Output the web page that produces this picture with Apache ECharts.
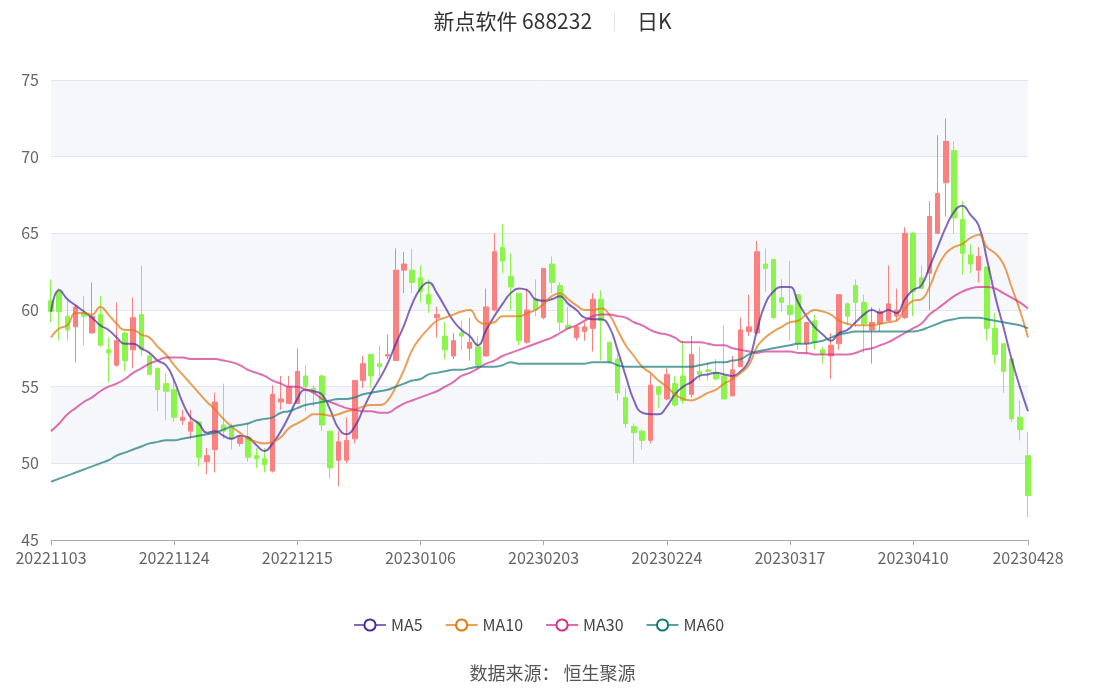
<!DOCTYPE html>
<html>
<head>
<meta charset="utf-8">
<script src="https://cdn.jsdelivr.net/npm/echarts@6/dist/echarts.min.js"></script>
<style>html,body{margin:0;padding:0;background:#fff}#c{width:1105px;height:689px}</style>
</head>
<body>
<div id="c"></div>
<script>
const dates = ['20221103','20221104','20221107','20221108','20221109','20221110','20221111','20221114','20221115','20221116','20221117','20221118','20221121','20221122','20221123','20221124','20221125','20221128','20221129','20221130',
'20221201','20221202','20221205','20221206','20221207','20221208','20221209','20221212','20221213','20221214','20221215','20221216','20221219','20221220','20221221','20221222','20221223','20221226','20221227','20221228','20221229','20221230',
'20230103','20230104','20230105','20230106','20230109','20230110','20230111','20230112','20230113','20230116','20230117','20230118','20230119','20230120','20230130','20230131',
'20230201','20230202','20230203','20230206','20230207','20230208','20230209','20230210','20230213','20230214','20230215','20230216','20230217','20230220','20230221','20230222','20230223','20230224','20230227','20230228',
'20230301','20230302','20230303','20230306','20230307','20230308','20230309','20230310','20230313','20230314','20230315','20230316','20230317','20230320','20230321','20230322','20230323','20230324','20230327','20230328','20230329','20230330','20230331',
'20230403','20230404','20230406','20230407','20230410','20230411','20230412','20230413','20230414','20230417','20230418','20230419','20230420','20230421','20230424','20230425','20230426','20230427','20230428'];

// [open, close, low, high]
const kData = [
[60.6,59.9,59.2,62.0],[61.2,59.9,58.0,61.4],[59.6,58.7,58.0,60.6],[58.9,60.2,56.6,60.3],[59.8,59.6,57.7,60.9],
[58.5,59.6,58.5,61.8],[59.7,57.7,57.6,60.9],[57.4,57.2,55.3,58.2],[56.4,58.0,56.3,60.5],[58.5,56.7,56.0,58.6],
[57.4,59.5,56.2,60.8],[59.7,57.4,57.0,62.9],[57.0,55.8,55.8,57.3],[56.2,54.8,53.4,56.2],[55.2,54.7,52.8,55.9],
[54.8,53.0,52.7,55.5],[52.8,53.0,52.5,53.5],[52.1,52.7,51.6,53.5],[52.7,50.4,49.8,52.7],[50.1,50.5,49.3,51.0],
[50.9,54.0,49.4,54.6],[52.5,52.1,51.6,55.2],[52.3,51.6,50.9,52.6],[51.3,51.7,51.1,51.8],[51.7,50.4,50.1,52.6],
[50.5,50.3,49.7,51.0],[50.3,49.9,49.4,51.0],[49.5,54.5,49.4,55.1],[54.0,54.2,53.5,55.7],[53.9,55.0,53.9,55.7],
[53.9,56.0,53.9,57.5],[55.7,55.0,53.4,56.4],[54.9,54.6,53.7,55.1],[55.7,52.5,52.1,55.8],[52.1,49.7,49.0,52.1],
[50.2,51.4,48.5,52.1],[50.2,51.5,50.0,53.0],[51.6,55.4,51.3,55.4],[55.4,56.5,54.9,57.0],[57.1,55.7,54.9,57.1],
[56.5,56.3,55.7,57.7],[57.0,57.1,56.8,58.4],[56.7,62.6,56.7,64.0],[62.6,63.0,61.1,63.8],[62.6,61.8,61.1,64.0],
[62.1,61.2,60.5,62.9],[61.0,60.4,59.8,62.0],[59.5,59.7,58.2,60.2],[58.3,57.4,56.8,59.2],[57.0,58.0,56.8,58.5],
[58.5,58.3,57.4,59.3],[57.5,57.9,56.7,59.5],[57.6,56.4,56.1,58.3],[57.0,60.2,57.0,61.4],[60.0,63.8,59.9,65.0],
[64.1,63.2,62.4,65.6],[62.2,61.5,60.0,63.7],[61.1,58.0,57.7,61.1],[57.9,60.0,57.8,61.4],[60.7,60.0,59.6,62.0],
[59.5,62.7,59.4,62.7],[63.0,61.8,61.1,63.5],[61.6,59.2,58.6,61.8],[59.0,58.8,58.7,60.2],[58.2,58.9,58.0,59.0],
[58.6,58.9,58.0,59.2],[58.8,60.7,57.3,61.1],[60.7,59.3,56.7,61.3],[57.9,56.6,56.5,57.9],[56.8,54.6,54.1,57.1],
[54.3,52.6,52.3,54.9],[52.4,52.0,50.0,52.6],[52.1,51.5,50.9,52.2],[51.5,55.1,51.3,55.8],[55.0,54.5,53.6,55.0],
[54.2,55.8,54.1,56.2],[55.2,53.8,53.7,55.7],[55.7,54.1,53.9,58.0],[54.5,57.1,54.3,58.3],[56.0,55.8,55.4,57.6],
[56.1,56.0,55.4,56.6],[55.9,55.5,55.4,56.8],[55.7,54.2,54.2,59.0],[54.4,56.1,54.4,57.0],[56.3,58.7,56.3,59.5],
[58.6,58.9,58.3,61.0],[58.5,63.8,58.4,64.5],[63.0,62.7,61.2,64.0],[63.3,59.5,59.4,63.3],[60.8,60.5,59.9,62.0],
[60.3,59.7,58.0,63.2],[61.0,57.8,57.4,61.0],[57.8,59.2,57.1,59.2],[59.3,57.9,57.4,59.7],[57.4,57.1,56.5,57.6],
[57.0,57.7,55.5,58.5],[57.8,61.0,57.4,61.0],[60.4,59.6,59.0,60.5],[61.6,60.5,58.9,62.0],[60.5,59.1,57.2,61.0],
[58.7,59.2,56.5,60.2],[59.1,59.9,58.6,60.1],[59.3,60.4,59.3,62.9],[59.6,60.0,59.3,61.4],[59.5,65.0,59.4,65.4],
[65.0,61.2,59.6,65.1],[62.1,61.4,61.4,62.9],[62.4,66.1,60.0,67.1],[65.0,67.6,65.0,71.4],[68.3,71.0,66.1,72.5],
[70.4,66.0,65.0,71.0],[65.9,63.7,62.3,67.1],[63.6,63.0,62.4,64.3],[62.6,63.5,61.8,64.1],[62.8,58.8,58.0,62.8],
[58.8,57.1,56.5,59.8],[57.8,56.0,54.6,57.8],[56.8,52.9,52.7,56.8],[53.0,52.2,51.5,54.1],[50.5,47.9,46.5,52.0]
];

const ma5 = [59.9,61.3,60.7,60.3,59.9,59.5,59.0,58.7,58.2,57.8,57.8,57.5,57.2,56.7,56.4,55.4,54.0,53.0,52.6,52.0,
52.1,51.8,51.6,51.8,51.7,51.2,50.8,51.3,52.1,53.1,54.2,54.8,54.7,54.5,53.5,52.3,51.9,52.4,53.5,54.6,
55.5,56.5,57.8,59.0,60.4,61.4,61.8,61.1,60.2,59.3,58.7,58.3,57.7,58.7,59.6,60.4,61.1,61.4,61.3,60.7,
60.6,60.7,60.9,60.4,60.0,59.5,59.4,59.4,58.9,57.4,55.7,54.1,53.3,53.2,53.2,53.7,54.5,55.0,55.3,55.7,
55.8,55.9,55.8,55.7,56.0,56.7,58.7,60.4,61.2,61.5,61.5,60.5,59.6,58.9,58.4,58.0,58.5,58.7,59.2,59.7,
60.0,59.8,60.0,59.8,60.7,61.3,61.6,62.8,64.1,65.4,66.4,66.8,66.2,65.5,63.3,60.9,58.9,56.8,55.0,53.4];
const ma10 = [58.2,58.8,59.0,59.8,59.8,59.7,60.2,59.7,59.1,58.7,58.7,58.4,58.2,57.6,57.1,56.4,55.8,55.2,54.6,54.0,
53.5,52.9,52.4,52.0,51.6,51.4,51.3,51.4,51.7,52.3,52.6,52.9,53.2,53.2,53.1,53.2,53.4,53.5,53.7,53.8,
53.8,54.1,55.0,56.1,57.4,58.2,58.8,59.3,59.5,59.7,59.9,60.0,59.3,59.1,59.2,59.6,59.6,59.6,59.8,60.0,
60.4,60.9,61.1,60.7,60.3,60.0,60.0,60.1,59.7,58.7,57.7,57.0,56.3,55.9,55.4,55.0,54.5,54.2,54.1,54.3,
54.6,54.8,55.2,55.5,55.9,56.4,57.6,58.2,58.6,58.9,59.2,59.3,59.7,60.0,59.9,59.7,59.3,59.1,59.0,59.0,
59.0,59.1,59.2,59.3,60.1,60.6,60.7,61.5,62.8,63.7,64.1,64.3,64.7,64.9,64.1,63.7,63.0,61.5,60.0,58.2];
const ma30 = [52.1,52.6,53.2,53.6,54.0,54.3,54.7,55.0,55.2,55.5,55.9,56.2,56.5,56.7,56.9,56.9,56.9,56.8,56.8,56.8,
56.8,56.7,56.6,56.4,56.1,55.9,55.7,55.4,55.2,55.0,55.0,54.8,54.6,54.2,54.0,53.8,53.6,53.5,53.4,53.4,
53.3,53.3,53.6,53.9,54.1,54.3,54.5,54.7,55.0,55.3,55.7,55.9,56.2,56.5,56.7,57.0,57.2,57.4,57.6,57.8,
58.0,58.2,58.5,58.8,59.0,59.3,59.6,59.7,59.7,59.6,59.5,59.2,59.0,58.7,58.5,58.4,58.2,57.9,57.9,57.9,
57.8,57.7,57.7,57.5,57.4,57.3,57.2,57.3,57.3,57.3,57.3,57.2,57.2,57.1,57.1,57.1,57.1,57.1,57.2,57.4,
57.5,57.7,57.9,58.2,58.5,58.8,59.1,59.7,60.1,60.5,60.9,61.2,61.4,61.5,61.5,61.4,61.1,60.8,60.5,60.1];
const ma60 = [48.8,49.0,49.2,49.4,49.6,49.8,50.0,50.2,50.5,50.7,50.9,51.1,51.3,51.4,51.5,51.5,51.6,51.7,51.8,51.9,
52.0,52.2,52.4,52.5,52.6,52.8,52.9,53.0,53.3,53.4,53.6,53.8,53.9,54.0,54.1,54.2,54.2,54.3,54.5,54.6,
54.7,54.8,55.0,55.2,55.4,55.5,55.8,55.9,56.0,56.1,56.1,56.2,56.3,56.3,56.3,56.4,56.6,56.5,56.5,56.5,
56.5,56.5,56.5,56.5,56.5,56.5,56.6,56.6,56.6,56.4,56.3,56.3,56.3,56.3,56.3,56.3,56.3,56.3,56.3,56.4,
56.5,56.6,56.6,56.7,56.8,57.1,57.3,57.4,57.5,57.6,57.7,57.8,57.8,57.9,58.0,58.2,58.4,58.5,58.6,58.6,
58.6,58.6,58.6,58.6,58.6,58.6,58.7,58.9,59.1,59.3,59.4,59.5,59.5,59.5,59.4,59.3,59.2,59.1,59.0,58.8];

const yMin = 45, yMax = 75, yStep = 5;
const titleMain = '新点软件 688232';
const titleSub = '日K';
const sourceText = '数据来源： 恒生聚源';

const chart = echarts.init(document.getElementById('c'), null, {renderer: 'canvas'});
const FONT = "'Noto Sans CJK SC', 'Noto Sans', sans-serif";
const labelInterval = (i) => i % 15 === 0 || i === dates.length - 1;

function maSeries(name, data, color) {
  return {
    name, type: 'line', data, smooth: true, showSymbol: false, symbol: 'emptyCircle', symbolSize: 10,
    itemStyle: {color}, lineStyle: {width: 2, opacity: 0.7, color}, z: 3
  };
}

chart.setOption({
  animation: false,
  textStyle: {fontFamily: FONT},
  title: [{
    left: 'center', top: 6,
    text: '{t|' + titleMain + '}{sp|}{s|}{sp|}{t|' + titleSub + '}',
    textStyle: {
      fontWeight: 'normal',
      rich: {
        t: {fontSize: 21, color: '#333', fontWeight: 'normal', fontFamily: FONT},
        sp: {width: 22},
        s: {width: 1, height: 18, backgroundColor: '#e3e3e3'}
      }
    }
  }, {
    left: 'center', bottom: 2,
    text: sourceText,
    textStyle: {fontSize: 18, fontWeight: 'normal', color: '#555', fontFamily: FONT}
  }],
  legend: {
    top: 612, left: 348,
    itemWidth: 32, itemHeight: 14, itemGap: 22,
    textStyle: {fontSize: 16, color: '#444'},
    data: ['MA5', 'MA10', 'MA30', 'MA60']
  },
  grid: {left: 51, right: 77, top: 80, bottom: 149},
  xAxis: {
    type: 'category', data: dates, boundaryGap: false,
    axisLine: {lineStyle: {color: '#aaa'}},
    axisTick: {interval: labelInterval, lineStyle: {color: '#aaa'}},
    axisLabel: {interval: labelInterval, fontSize: 16, color: '#666', margin: 10},
    splitLine: {show: false}
  },
  yAxis: {
    type: 'value', min: yMin, max: yMax, interval: yStep, scale: true,
    axisLine: {show: false}, axisTick: {show: false},
    axisLabel: {fontSize: 16, color: '#666', margin: 12},
    splitLine: {lineStyle: {color: '#e0e6f1'}},
    splitArea: {show: true, areaStyle: {color: ['rgba(255,255,255,1)', 'rgba(210,219,238,0.22)']}}
  },
  series: [
    {
      name: 'K', type: 'candlestick', data: kData, barWidth: 5, clip: false,
      itemStyle: {color: '#fd8080', color0: '#8cf54c', borderColor: '#fd8080', borderColor0: '#8cf54c', borderWidth: 1},
      z: 2
    },
    maSeries('MA5', ma5, '#4c2a9e'),
    maSeries('MA10', ma10, '#e07814'),
    maSeries('MA30', ma30, '#d2308f'),
    maSeries('MA60', ma60, '#167878')
  ]
});
</script>
</body>
</html>
